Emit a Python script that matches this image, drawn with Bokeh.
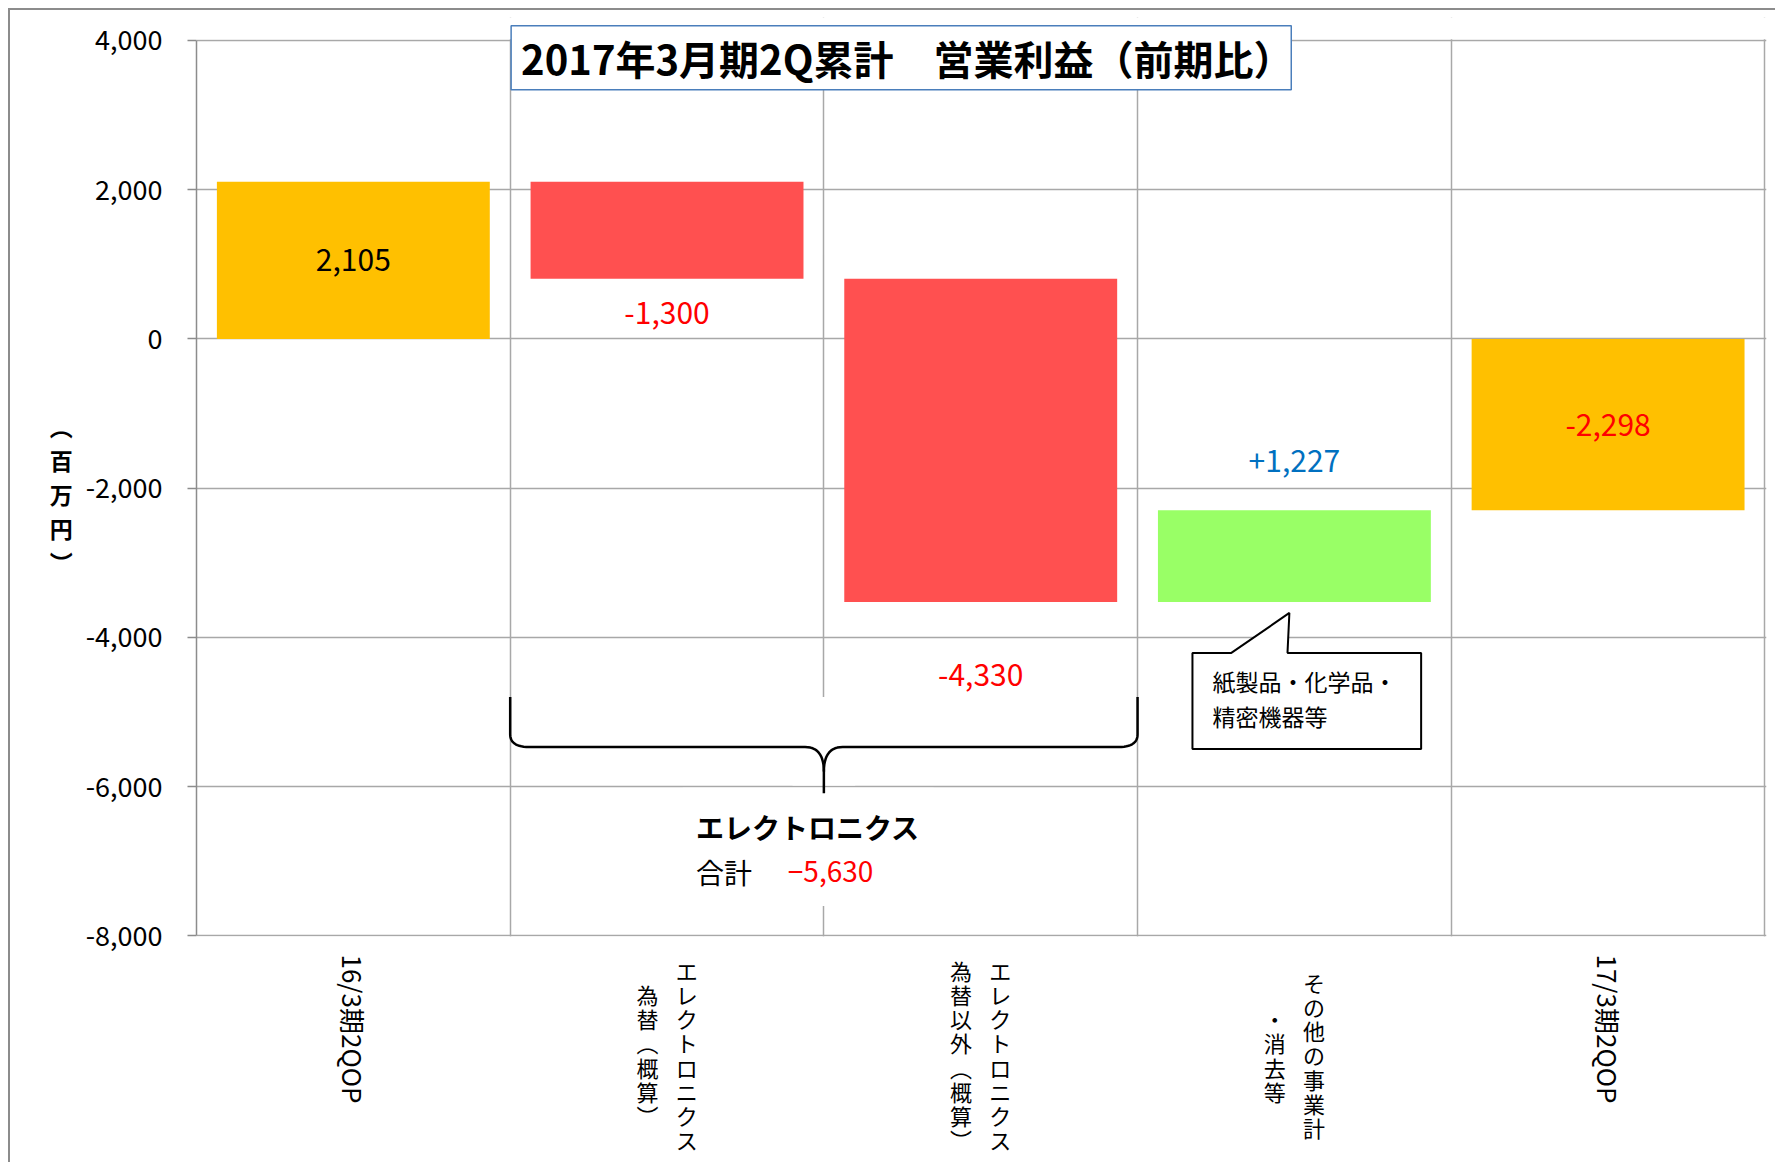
import numpy as np
from bokeh.plotting import figure
from bokeh.layouts import column
from bokeh.models import ColumnDataSource, Range1d, FixedTicker, NumeralTickFormatter, Grid
from bokeh.core.properties import value
from bokeh.embed import file_html
from bokeh.resources import INLINE

# ---------------- data ----------------
categories = ["16/3期2QOP", "エレクトロニクス\n為替（概算）", "エレクトロニクス\n為替以外（概算）",
              "その他の事業計\n・消去等", "17/3期2QOP"]
values = [2105, -1300, -4330, 1227, -2298]
kinds = ["total", "delta", "delta", "delta", "total"]
value_labels = ["2,105", "-1,300", "-4,330", "+1,227", "-2,298"]
y_ticks = [-8000, -6000, -4000, -2000, 0, 2000, 4000]
title_text = "2017年3月期2Q累計　営業利益（前期比）"
y_unit = "（百万円）"
callout_lines = ["紙製品・化学品・", "精密機器等"]
brace_title = "エレクトロニクス"
brace_sum_label = "合計"

# ---------------- styles ----------------
FONT = "Noto Sans CJK JP"
bar_colors = ["#FFC000", "#FF5050", "#FF5050", "#99FF66", "#FFC000"]
label_colors = ["#000000", "#FF0000", "#FF0000", "#0070C0", "#FF0000"]
label_anchor = ["mid", "low", "low", "high", "mid"]
label_shift = [0, -456, -979, 663, 0]          # data-unit shift from anchor
GRID = "#a8a8a8"
LH = 1.0 / 1.448   # Noto CJK line box -> 1em per line

# waterfall geometry from values
bottoms, tops = [], []
run = 0
for v, k in zip(values, kinds):
    if k == "total":
        b, t = 0, v
        run = v
    else:
        b, t = run, run + v
        run += v
    bottoms.append(min(b, t))
    tops.append(max(b, t))
xs = np.arange(len(categories)) + 0.5
ly = []
for b, t, a, s in zip(bottoms, tops, label_anchor, label_shift):
    base = (b + t) / 2 if a == "mid" else (b if a == "low" else t)
    ly.append(base + s)

src = ColumnDataSource(dict(x=xs, top=tops, bottom=bottoms, color=bar_colors,
                            ly=ly, lt=value_labels, lc=label_colors))

VERT = {"（": "︵", "）": "︶"}
def stack(s):
    return "\n".join(VERT.get(c, c) for c in s)

xr = Range1d(0, 5.005)
p = figure(width=1765, height=943, x_range=xr, y_range=Range1d(-8010, 4308),
           x_axis_location=None, output_backend="svg", toolbar_location=None,
           min_border_left=186, min_border_right=9, min_border_top=7, min_border_bottom=17,
           background_fill_color="white", border_fill_color="white")
p.outline_line_color = None

p.add_layout(Grid(dimension=0, ticker=FixedTicker(ticks=[1, 2, 3, 4, 5]),
                  grid_line_color=GRID, grid_line_width=1.5))
p.ygrid.ticker = FixedTicker(ticks=y_ticks)
p.ygrid.grid_line_color = GRID
p.ygrid.grid_line_width = 1.5

ya = p.yaxis[0]
ya.ticker = FixedTicker(ticks=y_ticks)
ya.bounds = (-8000, 4000)
ya.formatter = NumeralTickFormatter(format="0,0")
ya.major_label_text_font = FONT
ya.major_label_text_font_size = "27px"
ya.major_label_text_color = "black"
ya.major_label_standoff = 25
ya.major_tick_out = 9
ya.major_tick_in = 0
ya.minor_tick_out = 0
ya.minor_tick_in = 0
ya.axis_line_color = "#8c8c8c"
ya.axis_line_width = 1.5
ya.major_tick_line_color = "#8c8c8c"
ya.major_tick_line_width = 1.5
ya.axis_label = "\u3000\n" + stack(y_unit)
ya.axis_label_orientation = "horizontal"
ya.axis_label_text_font = FONT
ya.axis_label_text_font_size = "23px"
ya.axis_label_text_font_style = "bold"
ya.axis_label_text_color = "black"
ya.axis_label_text_line_height = 1.0
ya.axis_label_standoff = 10

# hide grid stubs above the top line
p.quad(left=0, right=5.005, bottom=4015, top=4308, fill_color="white", line_color=None)

# bars
p.vbar(x="x", top="top", bottom="bottom", width=0.87, fill_color="color", line_color=None, source=src)
# value labels
p.text(x="x", y="ly", text="lt", text_color="lc", source=src, text_font=value(FONT),
       text_font_size="30px", text_align="center", text_baseline="middle")

# ---- brace over electronics (categories 1..2) ----
def qbez(p0, p1, p2, n=14):
    t = np.linspace(0, 1, n)[:, None]
    pts = (1 - t) ** 2 * np.array(p0) + 2 * (1 - t) * t * np.array(p1) + t ** 2 * np.array(p2)
    return pts[:, 0].tolist(), pts[:, 1].tolist()

bl, bc, br = 1.0, 2.0, 3.0
ytop, yh, ymid, ytip = -4800, -5470, -5800, -6090
p.quad(left=bc - 0.1, right=bc + 0.1, bottom=-5985, top=ytop, fill_color="white", line_color=None)
p.quad(left=1.55, right=2.35, bottom=-7600, top=-6015, fill_color="white", line_color=None)
bx, by = [bl], [ytop]
for seg in [qbez((bl, -5300), (bl, yh), (bl + 0.06, yh)),
            qbez((bc - 0.06, yh), (bc, yh), (bc, ymid))]:
    bx += seg[0]; by += seg[1]
bx += [bc]; by += [ytip]
bx2, by2 = [bc], [ymid]
for seg in [qbez((bc, ymid), (bc, yh), (bc + 0.06, yh)),
            qbez((br - 0.06, yh), (br, yh), (br, -5300))]:
    bx2 += seg[0]; by2 += seg[1]
bx2 += [br]; by2 += [ytop]
p.line(bx, by, line_color="black", line_width=2.5)
p.line(bx2, by2, line_color="black", line_width=2.5)

elec_total = values[1] + values[2]
p.text(x=[1.592], y=[-6542], text=[brace_title], text_font=value(FONT), text_font_size="28px",
       text_font_style="bold", text_align="left", text_baseline="middle", text_color="black")
p.text(x=[1.592], y=[-7145], text=[brace_sum_label], text_font=value(FONT), text_font_size="28px",
       text_align="left", text_baseline="middle", text_color="black")
p.text(x=[1.885], y=[-7145], text=["−{:,}".format(abs(elec_total))], text_font=value(FONT),
       text_font_size="28px", text_align="left", text_baseline="middle", text_color="#FF0000")

# ---- callout for "other" ----
cx = [3.175, 3.299, 3.484, 3.478, 3.904, 3.904, 3.175]
cy = [-4209, -4209, -3673, -4209, -4209, -5496, -5496]
p.patch(cx, cy, fill_color="white", line_color="black", line_width=2)
p.text(x=[3.239, 3.239], y=[-4584, -5054], text=callout_lines, text_font=value(FONT),
       text_font_size="23px", text_align="left", text_baseline="middle", text_color="black")

# ---- title box ----
p.quad(left=1.003, right=3.490, bottom=3339, top=4197, fill_color="white",
       line_color="#4A7EBB", line_width=1.5)
p.text(x=[2.266], y=[3768], text=[title_text], text_font=value(FONT), text_font_size="40px",
       text_font_style="bold", text_align="center", text_baseline="middle", text_color="black")

# ---- category labels strip (below the axis) ----
pb = figure(width=1765, height=209, x_range=xr, y_range=Range1d(-209, 0),
            x_axis_location=None, y_axis_location=None, output_backend="svg", toolbar_location=None,
            min_border_left=186, min_border_right=9, min_border_top=0, min_border_bottom=0,
            background_fill_color="white", border_fill_color="white")
pb.outline_line_color = None
for g in pb.grid:
    g.visible = False
for xc, cat in zip(xs, categories):
    if "\n" not in cat:
        pb.text(x=[xc], y=[-1], text=[cat], angle=-np.pi / 2, text_font=value(FONT),
                text_font_size="26px", text_align="left", text_baseline="middle", text_color="black")
    else:
        lines = cat.split("\n")
        n = len(lines)
        for i, ln in enumerate(lines):
            off = (n - 1) / 2 - i
            pb.text(x=[xc + 0.125 * off], y=[-101], text=[stack(ln)], text_font=value(FONT),
                    text_font_size="22px", text_align="center", text_baseline="middle",
                    text_line_height=LH * 1.09, text_color="black")

layout = column(p, pb, styles={"margin-left": "8px", "margin-top": "8px",
                               "border-left": "2px solid #8c8c8c", "border-top": "2px solid #8c8c8c"})

open("out.html", "w").write(file_html(layout, INLINE))
